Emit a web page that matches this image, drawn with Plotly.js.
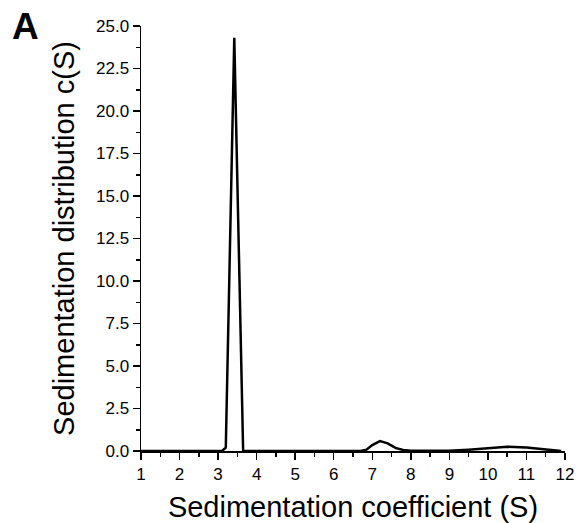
<!DOCTYPE html>
<html>
<head>
<meta charset="utf-8">
<script src="https://cdn.plot.ly/plotly-3.0.1.min.js"></script>
<style>html,body{margin:0;padding:0;background:#fff;}#chart{width:578px;height:523px;}</style>
</head>
<body>
<div id="chart"></div>
<script>
// Sedimentation coefficient (S) grid and c(S) distribution values
const sValues = [1.0, 3.1, 3.2, 3.42, 3.65, 6.7, 6.85, 7.0, 7.2, 7.4, 7.6, 7.8, 8.0, 9.0, 9.5, 10.0, 10.5, 11.0, 11.5, 11.9];
const cValues = [0.0, 0.0, 0.2, 24.3, 0.0, 0.0, 0.08, 0.35, 0.58, 0.45, 0.18, 0.06, 0.02, 0.02, 0.08, 0.17, 0.25, 0.2, 0.08, 0.0];
const xTickVals = [1, 2, 3, 4, 5, 6, 7, 8, 9, 10, 11, 12];
const yTickVals = [0, 2.5, 5, 7.5, 10, 12.5, 15, 17.5, 20, 22.5, 25];

const font = 'Liberation Sans, Arial, sans-serif';

const trace = {
  x: sValues,
  y: cValues,
  type: 'scatter',
  mode: 'lines',
  line: {color: '#000', width: 2.5},
  hoverinfo: 'skip'
};

const layout = {
  width: 578,
  height: 523,
  margin: {l: 141, r: 13, t: 26, b: 72},
  paper_bgcolor: '#fff',
  plot_bgcolor: '#fff',
  showlegend: false,
  font: {family: font, color: '#000'},
  xaxis: {
    range: [1, 12],
    tickmode: 'array',
    tickvals: xTickVals,
    ticktext: xTickVals.map(String),
    ticks: 'outside',
    ticklen: 7,
    tickwidth: 1.5,
    tickcolor: '#000',
    showline: true,
    linecolor: '#000',
    linewidth: 1.5,
    showgrid: false,
    zeroline: false,
    tickfont: {family: font, size: 17, color: '#000'},
    minor: {dtick: 0.5, tick0: 1, ticks: 'outside', ticklen: 4, tickwidth: 1.5, tickcolor: '#000', showgrid: false},
    title: {text: 'Sedimentation coefficient (S)', font: {family: font, size: 29, color: '#000'}, standoff: 17}
  },
  yaxis: {
    range: [0, 25],
    tickmode: 'array',
    tickvals: yTickVals,
    ticktext: yTickVals.map(v => v.toFixed(1)),
    ticks: 'outside',
    ticklen: 7,
    tickwidth: 1.5,
    tickcolor: '#000',
    showline: true,
    linecolor: '#000',
    linewidth: 1.5,
    showgrid: false,
    zeroline: false,
    tickfont: {family: font, size: 17, color: '#000'},
    minor: {dtick: 1.25, tick0: 0, ticks: 'outside', ticklen: 4, tickwidth: 1.5, tickcolor: '#000', showgrid: false},
    title: {text: 'Sedimentation distribution c(S)', font: {family: font, size: 29, color: '#000'}, standoff: 13}
  },
  annotations: [{
    text: '<b>A</b>',
    xref: 'paper', yref: 'paper',
    x: -0.272, y: 1.0,
    xanchor: 'center', yanchor: 'middle',
    showarrow: false,
    font: {family: font, size: 37, color: '#000'}
  }]
};

Plotly.newPlot('chart', [trace], layout, {displayModeBar: false, staticPlot: true});
</script>
</body>
</html>
